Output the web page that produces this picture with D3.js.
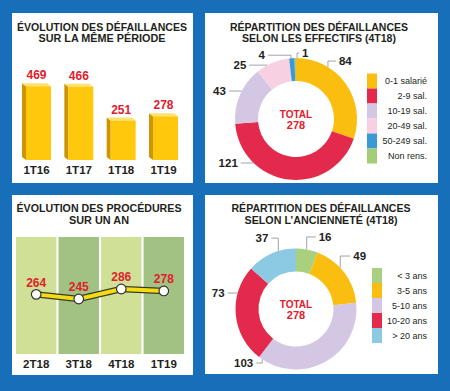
<!DOCTYPE html>
<html>
<head>
<meta charset="utf-8">
<script src="https://cdn.jsdelivr.net/npm/d3@7"></script>
<style>
body { margin: 0; background: #176eb9; }
svg { display: block; }
text { font-family: "Liberation Sans", Arial, sans-serif; }
</style>
</head>
<body>
<script>
// values
var barQuarters = ["1T16", "1T17", "1T18", "1T19"];
var barValues = [469, 466, 251, 278];

var lineQuarters = ["2T18", "3T18", "4T18", "1T19"];
var lineValues = [264, 245, 286, 278];

var sizeLabels = ["0-1 salarié", "2-9 sal.", "10-19 sal.", "20-49 sal.", "50-249 sal.", "Non rens."];
var sizeValues = [84, 121, 43, 25, 4, 1];

var ageLabels = ["< 3 ans", "3-5 ans", "5-10 ans", "10-20 ans", "> 20 ans"];
var ageValues = [16, 49, 103, 73, 37];

var totalValue = 278;

var sizeColors = ["#f9be10", "#e42a4c", "#d3c7e4", "#f7d0e1", "#3b9ad6", "#a3cd78"];
var ageColors = ["#a9d07e", "#f9be10", "#d3c7e4", "#e42a4c", "#8ccae4"];

// where each leader line leaves the ring (deg), its rise, direction and length
var sizeLeaders = [
  { a: 31.6, rise: 6, dir: 1, len: 8 },
  { a: -136.2, rise: 0, dir: -1, len: 13 },
  { a: -62.7, rise: 0, dir: -1, len: 13 },
  { a: -28, rise: 0, dir: -1, len: 18 },
  { a: -4.7, rise: 3, dir: -1, len: 23 },
  { a: 1, rise: 5, dir: 1, len: 2 }
];
var ageLeaders = [
  { a: 10.2, rise: 12.5, dir: 1, len: 9 },
  { a: 47, rise: 11.7, dir: 1, len: 10 },
  { a: 213.9, rise: -3.8, dir: -1, len: 6 },
  { a: -74.7, rise: 0, dir: -1, len: 10 },
  { a: -17, rise: 13, dir: -1, len: 7 }
];

var dark = "#231f20";
var red = "#e0202c";

var svg = d3.select("body").append("svg")
  .attr("width", 450)
  .attr("height", 391);

svg.append("rect").attr("width", 450).attr("height", 391).attr("fill", "#176eb9");

// white panels
var panels = [[12, 13, 181, 170], [205, 13, 233, 170], [12, 195, 181, 180], [205, 195, 233, 179]];
svg.selectAll("rect.panel")
  .data(panels)
  .enter()
  .append("rect")
  .attr("class", "panel")
  .attr("x", function (d) { return d[0]; })
  .attr("y", function (d) { return d[1]; })
  .attr("width", function (d) { return d[2]; })
  .attr("height", function (d) { return d[3]; })
  .attr("fill", "#fff");

function title(cx, y, lines, widths) {
  lines.forEach(function (t, i) {
    svg.append("text")
      .attr("x", cx)
      .attr("y", y + i * 11.8)
      .attr("text-anchor", "middle")
      .attr("font-size", 10.4)
      .attr("font-weight", "bold")
      .attr("fill", dark)
      .attr("textLength", widths[i])
      .attr("lengthAdjust", "spacingAndGlyphs")
      .text(t);
  });
}

title(102, 30.5, ["ÉVOLUTION DES DÉFAILLANCES", "SUR LA MÊME PÉRIODE"], [170, 127]);
title(319, 30.5, ["RÉPARTITION DES DÉFAILLANCES", "SELON LES EFFECTIFS (4T18)"], [178, 154]);
title(99, 212, ["ÉVOLUTION DES PROCÉDURES", "SUR UN AN"], [165, 60]);
title(321, 212, ["RÉPARTITION DES DÉFAILLANCES", "SELON L\u2019ANCIENNETÉ (4T18)"], [179, 153]);

// ---- 3D bars ----
var x = d3.scaleBand().domain(barQuarters).range([26, 178]).paddingInner(0.41);
var y = d3.scaleLinear().domain([0, 500]).range([160, 81.4]);
var dx = -4, dy = -3;

var bars = svg.append("g").selectAll("g")
  .data(barQuarters)
  .enter()
  .append("g");

bars.append("polygon")
  .attr("fill", "#cf9500")
  .attr("points", function (d, i) {
    var x0 = x(d), yt = y(barValues[i]), yb = y(0);
    return [[x0, yt], [x0 + dx, yt + dy], [x0 + dx, yb + dy], [x0, yb]].join(" ");
  });

bars.append("polygon")
  .attr("fill", "#ffe070")
  .attr("points", function (d, i) {
    var x0 = x(d), w = x.bandwidth(), yt = y(barValues[i]);
    return [[x0, yt], [x0 + w, yt], [x0 + w + dx, yt + dy], [x0 + dx, yt + dy]].join(" ");
  });

bars.append("rect")
  .attr("fill", "#ffc80c")
  .attr("x", function (d) { return x(d); })
  .attr("y", function (d, i) { return y(barValues[i]); })
  .attr("width", x.bandwidth())
  .attr("height", function (d, i) { return y(0) - y(barValues[i]); });

bars.append("text")
  .attr("x", function (d) { return x(d) + x.bandwidth() / 2 - 2; })
  .attr("y", function (d, i) { return y(barValues[i]) - 11; })
  .attr("dy", "0.35em")
  .attr("text-anchor", "middle")
  .attr("font-size", 12)
  .attr("font-weight", "bold")
  .attr("fill", red)
  .text(function (d, i) { return barValues[i]; });

bars.append("text")
  .attr("x", function (d) { return x(d) + x.bandwidth() / 2 - 2; })
  .attr("y", 170)
  .attr("dy", "0.35em")
  .attr("text-anchor", "middle")
  .attr("font-size", 11.5)
  .attr("font-weight", "bold")
  .attr("fill", dark)
  .text(function (d) { return d; });

// ---- line over coloured bands ----
var xl = d3.scaleBand().domain(lineQuarters).range([16, 184]).paddingInner(0.05);
var yl = d3.scaleLinear().domain([245, 286]).range([299, 289]);
var bandTop = 237, bandBottom = 354;

svg.append("g").selectAll("rect")
  .data(lineQuarters)
  .enter()
  .append("rect")
  .attr("x", function (d) { return xl(d); })
  .attr("y", bandTop)
  .attr("width", xl.bandwidth())
  .attr("height", bandBottom - bandTop)
  .attr("fill", function (d, i) { return i % 2 ? "#a2c283" : "#d0e096"; });

var lineGen = d3.line()
  .x(function (d, i) { return xl(lineQuarters[i]) + xl.bandwidth() / 2; })
  .y(function (d) { return yl(d); });

svg.append("path").attr("d", lineGen(lineValues))
  .attr("fill", "none").attr("stroke", "#3a3a2a").attr("stroke-width", 6.5);
svg.append("path").attr("d", lineGen(lineValues))
  .attr("fill", "none").attr("stroke", "#f5dc12").attr("stroke-width", 4);

var pts = svg.append("g").selectAll("g")
  .data(lineValues)
  .enter()
  .append("g");

pts.append("circle")
  .attr("cx", function (d, i) { return xl(lineQuarters[i]) + xl.bandwidth() / 2; })
  .attr("cy", function (d) { return yl(d); })
  .attr("r", 4.8)
  .attr("fill", "#fff")
  .attr("stroke", "#333")
  .attr("stroke-width", 1.2);

pts.append("text")
  .attr("x", function (d, i) { return xl(lineQuarters[i]) + xl.bandwidth() / 2; })
  .attr("y", function (d) { return yl(d) - 12; })
  .attr("dy", "0.35em")
  .attr("text-anchor", "middle")
  .attr("font-size", 12)
  .attr("font-weight", "bold")
  .attr("fill", red)
  .text(function (d) { return d; });

svg.append("g").selectAll("text")
  .data(lineQuarters)
  .enter()
  .append("text")
  .attr("x", function (d) { return xl(d) + xl.bandwidth() / 2; })
  .attr("y", 364)
  .attr("dy", "0.35em")
  .attr("text-anchor", "middle")
  .attr("font-size", 11.5)
  .attr("font-weight", "bold")
  .attr("fill", dark)
  .text(function (d) { return d; });

// ---- donuts ----
function donut(cx, cy, r, r0, values, colors, leaders, labels, legendX, legendY, textX) {
  var g = svg.append("g").attr("transform", "translate(" + cx + "," + cy + ")");
  var pie = d3.pie().sort(null)(values);
  var arc = d3.arc().innerRadius(r0).outerRadius(r);

  leaders.forEach(function (l, i) {
    var a = l.a * Math.PI / 180;
    var tx = r * Math.sin(a), ty = -r * Math.cos(a);
    var ey = ty - l.rise;
    var lx = tx + l.dir * l.len;
    g.append("polyline")
      .attr("points", [[lx, ey], [tx, ey], [tx, ty]].join(" "))
      .attr("fill", "none")
      .attr("stroke", "#9a9a9a")
      .attr("stroke-width", 0.9);
    g.append("text")
      .attr("x", lx + l.dir * 3)
      .attr("y", ey)
      .attr("dy", "0.35em")
      .attr("text-anchor", l.dir > 0 ? "start" : "end")
      .attr("font-size", 11.5)
      .attr("font-weight", "bold")
      .attr("fill", dark)
      .text(values[i]);
  });

  g.selectAll("path.slice")
    .data(pie)
    .enter()
    .append("path")
    .attr("class", "slice")
    .attr("d", arc)
    .attr("fill", function (d, i) { return colors[i]; });

  g.append("text").attr("y", -5).attr("dy", "0.35em")
    .attr("text-anchor", "middle").attr("font-size", 10).attr("font-weight", "bold")
    .attr("fill", red).text("TOTAL");
  g.append("text").attr("y", 6).attr("dy", "0.35em")
    .attr("text-anchor", "middle").attr("font-size", 11).attr("font-weight", "bold")
    .attr("fill", red).text(totalValue);

  var lg = svg.append("g");
  lg.selectAll("rect")
    .data(labels)
    .enter()
    .append("rect")
    .attr("x", legendX)
    .attr("y", function (d, i) { return legendY + i * 15; })
    .attr("width", 10)
    .attr("height", 15)
    .attr("fill", function (d, i) { return colors[i]; });
  lg.selectAll("text")
    .data(labels)
    .enter()
    .append("text")
    .attr("x", textX)
    .attr("y", function (d, i) { return legendY + i * 15 + 7.5; })
    .attr("dy", "0.35em")
    .attr("text-anchor", "end")
    .attr("font-size", 9)
    .attr("fill", dark)
    .text(function (d) { return d; });
}

donut(296, 119, 61, 38, sizeValues, sizeColors, sizeLeaders, sizeLabels, 367, 73.5, 427);
donut(296, 309, 60.5, 37.5, ageValues, ageColors, ageLeaders, ageLabels, 372, 268, 427);
</script>
</body>
</html>
